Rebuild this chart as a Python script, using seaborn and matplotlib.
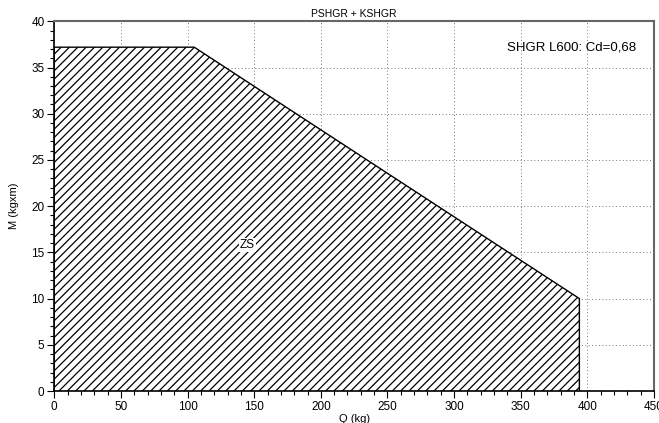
import matplotlib
matplotlib.use("Agg")
import matplotlib.pyplot as plt
from matplotlib.ticker import MultipleLocator
import seaborn as sns
import pandas as pd

# envelope of the allowed region (Q in kg, M in kgxm)
q_vals = [0, 0, 105, 394, 394]
m_vals = [0, 37.2, 37.2, 10, 0]

x_ticks = [0, 50, 100, 150, 200, 250, 300, 350, 400, 450]
y_ticks = [0, 5, 10, 15, 20, 25, 30, 35, 40]

sns.set_style("white")
plt.rcParams['font.family'] = ['Liberation Sans', 'DejaVu Sans']
plt.rcParams['hatch.linewidth'] = 0.9
for key in ['text.color', 'axes.labelcolor', 'xtick.color', 'ytick.color']:
    plt.rcParams[key] = 'black'

fig = plt.figure(figsize=(6.59, 4.23), dpi=100)
ax = fig.add_axes([54.3 / 659, 32 / 423, (654 - 54.3) / 659, (391 - 21.3) / 423])

ax.set_xlim(0, 450)
ax.set_ylim(0, 40)
ax.set_xticks(x_ticks)
ax.set_yticks(y_ticks)
ax.xaxis.set_minor_locator(MultipleLocator(10))
ax.yaxis.set_minor_locator(MultipleLocator(1))
ax.grid(True, which='major', linestyle=(0, (1, 2.5)), color='#777777', linewidth=0.7)
ax.set_axisbelow(True)

ax.fill(q_vals, m_vals, facecolor='white', edgecolor='black', hatch='////', linewidth=0, zorder=2)
df = pd.DataFrame({'Q': q_vals, 'M': m_vals})
sns.lineplot(data=df, x='Q', y='M', sort=False, estimator=None, color='black',
             linewidth=1.0, ax=ax, zorder=3)

for side in ['left', 'bottom']:
    ax.spines[side].set_color('black')
    ax.spines[side].set_linewidth(1.2)
for side in ['top', 'right']:
    ax.spines[side].set_color('#666666')
    ax.spines[side].set_linewidth(1.5)

ax.tick_params(which='major', direction='out', length=5, width=0.8, labelsize=8.5, pad=2,
               bottom=True, left=True)
ax.tick_params(which='minor', direction='out', length=3, width=0.8, bottom=True, left=True)

ax.set_xlabel('Q (kg)', fontsize=8, labelpad=1)
ax.set_ylabel('M (kgxm)', fontsize=8, labelpad=9)
ax.set_title('PSHGR + KSHGR', fontsize=7.5, pad=3)

ax.text(0.97, 0.93, 'SHGR L600: Cd=0,68', transform=ax.transAxes, ha='right', va='center',
        fontsize=9.5, zorder=5)
ax.text(145, 15.8, 'ZS', ha='center', va='center', fontsize=8.5, zorder=5,
        bbox=dict(facecolor='white', edgecolor='none', pad=1))

fig.savefig('out.png', dpi=100)
